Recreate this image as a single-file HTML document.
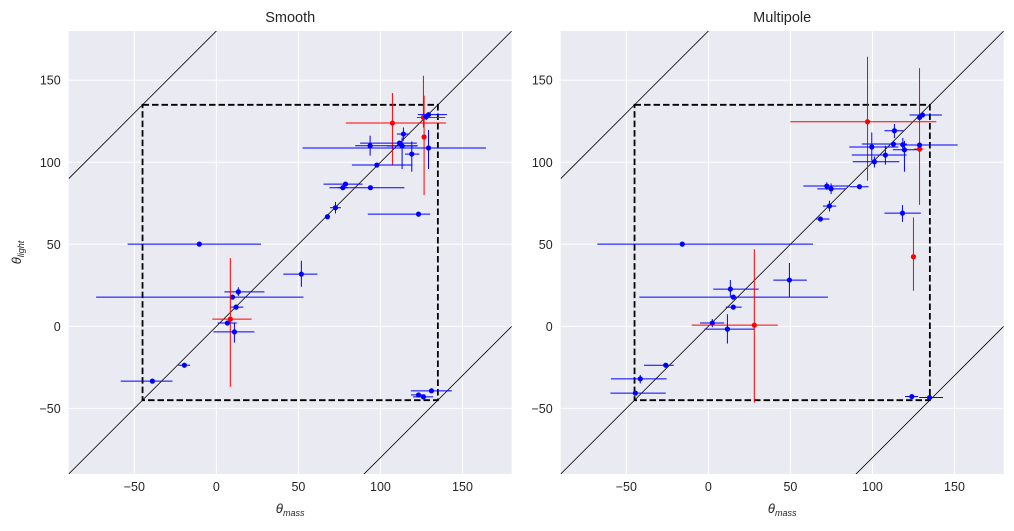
<!DOCTYPE html>
<html><head><meta charset="utf-8">
<style>
html,body{margin:0;padding:0;background:#fff;overflow:hidden;width:1014px;height:531px;position:relative;}
svg{position:absolute;left:0;top:0;display:block;font-family:"Liberation Sans",sans-serif;user-select:none;}
</style></head>
<body>
<svg id="chart" width="1014" height="531" viewBox="0 0 1014 531" xmlns="http://www.w3.org/2000/svg" overflow="hidden"></svg>
<script>
// ---- Data: Smooth panel ----
const sX   = [107.3,126.2,126.6,129.3,127.9,114,93.7,111.6,113.2,129.3,119.1,97.8,78.7,77.1,93.9,72.6,67.7,123.2,-10.4,51.8,13.4,9.8,12,8.5,6.7,11,-19.5,-39,131.1,123.2,126.2];
const sY   = [123.9,127.3,115.4,129,127.7,117.2,110.1,111.7,109.9,108.7,105,98.3,86.7,84.5,84.5,72.3,66.8,68.4,50.1,31.8,21,17.8,11.7,4.4,2,-3.4,-23.7,-33.4,-39.3,-41.8,-43];
const sXlo = [28.4,4,1,6.5,2,4,9.1,24,9.3,76.8,4.1,15.2,13.4,3,25,3.3,1,30.9,43.7,11,8.5,83.1,3.7,11,5.9,12.8,3.7,19.3,12.6,4.6,6.3];
const sXhi = [32.6,13.3,1,11.2,2,3.7,29.1,10.6,9,35,4.6,21.7,10.4,3,20.7,3.3,1,7.1,37.6,9.8,15.9,43.3,4.4,13,5.7,12.2,3.5,12.2,12.4,4.1,5.9];
const sYup = [18.3,25.4,25.2,1,2,4,6.1,1,5.2,11,7.7,1,1,1,1,3.5,1,1,1,8.1,2.8,1,1,37.2,1,5.7,1,1,1,1,1];
const sYdn = [25.4,6.1,35.4,1,2,4.1,6.1,1,14,12.8,10.8,1,1,1,1,3.5,1,1,1,7.7,2.5,1,1,41.3,1,6.5,1,1,1,1,1];
const sRed = [1,1,1,0,0,0,0,0,0,0,0,0,0,0,0,0,0,0,0,0,0,0,0,1,0,0,0,0,0,0,0];
// ---- Data: Multipole panel ----
const mX   = [97,128.7,125,130.5,128.7,113.4,99.6,112.8,118.5,119.5,128.7,107.9,101.2,72.2,74.8,92.1,73.8,68.3,118.3,-15.9,49.4,13.4,15.2,15.2,2.4,28,11.6,-26,-41.5,-44.5,124,134.8];
const mY   = [124.7,108,42.4,128.8,127.3,119.2,109.3,111.1,110.7,107.6,110.5,104.4,100.3,85.5,83.8,85.1,73.3,65.4,69,50.1,28.2,22.7,17.8,11.7,2,0.7,-1.7,-23.7,-32,-40.7,-42.8,-43.4];
const mXlo = [47.1,3.2,0.5,7.9,1,6.1,13.7,19.3,1,7.1,9.8,20.5,13.2,14.3,8.4,5.7,4,2.6,11,51.8,9.8,10.4,57.3,4.6,7.5,38.2,14,13.2,17.9,15.2,4.1,6.3];
const mXhi = [41.9,2.4,0.5,11.8,1,5.5,16.2,8.2,1,7.6,23.2,13,15.2,14.2,9.1,5.5,4.1,5.5,11.2,79.7,10.6,17.3,57.7,5.1,7.3,14.3,16.3,4.9,16.1,18.5,3.8,8.2];
const mYup = [39.6,49.4,24,1,1,4.1,8.9,1,4.1,5.5,1,5.7,3.2,2.3,3.3,1,3.3,1,4.9,1,10.4,5.5,1,1,2.5,46.3,9.1,1,2.4,1,1,1];
const mYdn = [36,34,20.7,1,1,4.5,8.4,1,3.7,13.4,1,5.9,3.5,2.3,3.2,1,3.3,1,5.3,1,10.2,4.7,1,1,2.5,47.2,8.8,1,2.8,1,1,1];
const mRed = [1,1,1,0,0,0,0,0,0,0,0,0,0,0,0,0,0,0,0,0,0,0,0,0,0,1,0,0,0,0,0,0];
// ---- Axes ----
const xTicks = [-50,0,50,100,150];
const yTicks = [-50,0,50,100,150];
const dMin = -90, dMax = 180;
const boxLo = -45, boxHi = 135;

const NS = "http://www.w3.org/2000/svg";
const svg = document.getElementById('chart');
function el(tag, attrs, parent, text){
  const e = document.createElementNS(NS, tag);
  for (const k in attrs) e.setAttribute(k, attrs[k]);
  if (text !== undefined) e.textContent = text;
  (parent || svg).appendChild(e);
  return e;
}
const fmt = t => (t < 0 ? '\u2212' + Math.abs(t) : String(t));

function panel(key, title, left, X, Y, Xlo, Xhi, Yup, Ydn, Red, showY){
  const top = 31, W = 443, H = 443;
  const sx = v => left + (v - dMin) / (dMax - dMin) * W;
  const sy = v => top + H - (v - dMin) / (dMax - dMin) * H;
  const g = el('g', {});
  
  
  const bg = el('rect', {x:left, y:top, width:W, height:H, fill:'#eaeaf2'}, g);
  
  
  const clipId = 'clip-' + key;
  const cp = el('clipPath', {id:clipId}, g);
  el('rect', {x:left, y:top, width:W, height:H}, cp);
  xTicks.forEach(t => {
    const l = el('line', {x1:sx(t), x2:sx(t), y1:top, y2:top+H, stroke:'#fff', 'stroke-width':1}, g);
    
    
    const tx = el('text', {x:sx(t), y:top+H+17, 'text-anchor':'middle', 'font-size':12.5, fill:'#262626'}, g, fmt(t));
    
    
  });
  yTicks.forEach(t => {
    const l = el('line', {x1:left, x2:left+W, y1:sy(t), y2:sy(t), stroke:'#fff', 'stroke-width':1}, g);
    
    
    const tx = el('text', {x:left-8, y:sy(t)+4.5, 'text-anchor':'end', 'font-size':12.5, fill:'#262626'}, g, fmt(t));
    
    
  });
  const inner = el('g', {'clip-path':'url(#' + clipId + ')'}, g);
  [0, 180, -180].forEach(off => {
    const l = el('line', {x1:sx(dMin), y1:sy(dMin+off), x2:sx(dMax), y2:sy(dMax+off), stroke:'#000', 'stroke-width':0.8}, inner);
    
    
  });
  const box = el('rect', {x:sx(boxLo), y:sy(boxHi), width:sx(boxHi)-sx(boxLo), height:sy(boxLo)-sy(boxHi), fill:'none', stroke:'#000', 'stroke-width':1.8, 'stroke-dasharray':'6.5,3'}, inner);
  
  
  for (let i = 0; i < X.length; i++){
    const c = Red[i] ? '#ff0000' : '#0000ff';
    const pg = el('g', {}, inner);
    
    
    el('line', {x1:sx(X[i]-Xlo[i]), x2:sx(X[i]+Xhi[i]), y1:sy(Y[i]), y2:sy(Y[i]), stroke:c, 'stroke-width':1}, pg);
    el('line', {x1:sx(X[i]), x2:sx(X[i]), y1:sy(Y[i]+Yup[i]), y2:sy(Y[i]-Ydn[i]), stroke:c, 'stroke-width':1}, pg);
    el('circle', {cx:sx(X[i]), cy:sy(Y[i]), r:2.6, fill:c}, pg);
  }
  const tt = el('text', {x:left+W/2, y:22, 'text-anchor':'middle', 'font-size':14.5, fill:'#262626'}, g, title);
  
  
  const xl = el('text', {x:left+W/2, y:513, 'text-anchor':'middle', 'font-size':13, fill:'#262626', 'font-style':'italic'}, g);
  
  
  el('tspan', {}, xl, 'θ');
  el('tspan', {'font-size':9, dy:3}, xl, 'mass');
  if (showY){
    const yl = el('text', {transform:'translate(21,' + (top+H/2) + ') rotate(-90)', 'text-anchor':'middle', 'font-size':13, fill:'#262626', 'font-style':'italic'}, g);
    
    
    el('tspan', {}, yl, 'θ');
    el('tspan', {'font-size':9, dy:3}, yl, 'light');
  }
}
panel('smooth', 'Smooth', 68.7, sX, sY, sXlo, sXhi, sYup, sYdn, sRed, true);
panel('multipole', 'Multipole', 560.7, mX, mY, mXlo, mXhi, mYup, mYdn, mRed, false);
</script>
</body></html>
